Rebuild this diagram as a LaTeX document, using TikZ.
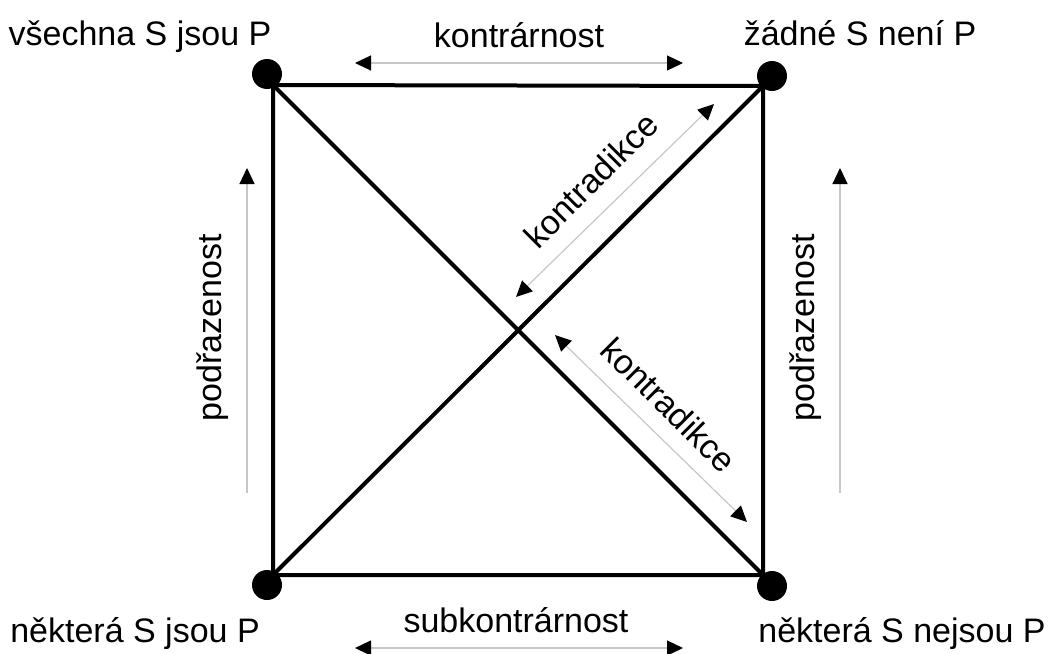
\documentclass[tikz,border=0pt]{standalone}
\usepackage{fontspec}
\setmainfont{Liberation Sans}
\usetikzlibrary{arrows.meta,calc}

\begin{document}
\begin{tikzpicture}[
    x=0.5pt, y=-0.5pt,
    font=\fontsize{17}{20}\selectfont,
    edge/.style={
        draw=black,
        line width=2pt
    },
    vertex/.style={
        circle,
        fill=black,
        inner sep=0pt,
        minimum size=15pt
    },
    caption/.style={
        inner sep=0pt,
        anchor=base
    },
    relation/.style={
        draw=black!22,
        line width=0.6pt,
        arrows={Triangle[length=8pt,width=7.5pt,color=black]-Triangle[length=8pt,width=7.5pt,color=black]}
    },
    subaltern/.style={
        draw=black!22,
        line width=0.6pt,
        arrows={-Triangle[length=8pt,width=7.5pt,color=black]}
    }
]
\useasboundingbox (0,0) rectangle (1052,653);

% Corners of the square (A, E, I, O)
\coordinate (cA) at (273,85);
\coordinate (cE) at (763,86);
\coordinate (cI) at (273,575);
\coordinate (cO) at (763,575);

\draw[edge] (cA) -- (cE) -- (cO) -- (cI) -- cycle;
\draw[edge] (cA) -- (cO);
\draw[edge] (cI) -- (cE);

\node[vertex] (dA) at (267,74) {};
\node[vertex] (dE) at (772,76) {};
\node[vertex] (dI) at (267,585) {};
\node[vertex] (dO) at (772,586) {};

% Corner propositions
\node[caption] (tA) at (140,45) {všechna S jsou P};
\node[caption] (tE) at (860,45) {žádné S není P};
\node[caption] (tI) at (135,642) {některá S jsou P};
\node[caption] (tO) at (902,642) {některá S nejsou P};

% Contrary / subcontrary
\node[caption] (contr) at (519,47) {kontrárnost};
\coordinate (contrL) at (355,63);
\coordinate (contrR) at (683,63);
\draw[relation] (contrL) -- (contrR);

\node[caption] (subcontr) at (516,632) {subkontrárnost};
\coordinate (subL) at (355,648);
\coordinate (subR) at (683,648);
\draw[relation] (subL) -- (subR);

% Subalternation
\coordinate (subaltAlow) at (247,493);
\coordinate (subaltAup) at (247,168);
\draw[subaltern] (subaltAlow) -- (subaltAup);
\node[rotate=90] (subaltAtext) at (213,328) {podřazenost};

\coordinate (subaltElow) at (840,493);
\coordinate (subaltEup) at (840,168);
\draw[subaltern] (subaltElow) -- (subaltEup);
\node[rotate=90] (subaltEtext) at (806,328) {podřazenost};

% Contradictories
\coordinate (diagIlow) at (516,297);
\coordinate (diagIup) at (714,104);
\draw[relation] (diagIlow) -- (diagIup);
\node[rotate=45] (diagItext) at (591,180) {kontradikce};

\coordinate (diagAup) at (555,335);
\coordinate (diagAlow) at (747,522);
\draw[relation] (diagAup) -- (diagAlow);
\node[rotate=-45] (diagAtext) at (669,405) {kontradikce};

\end{tikzpicture}
\end{document}
